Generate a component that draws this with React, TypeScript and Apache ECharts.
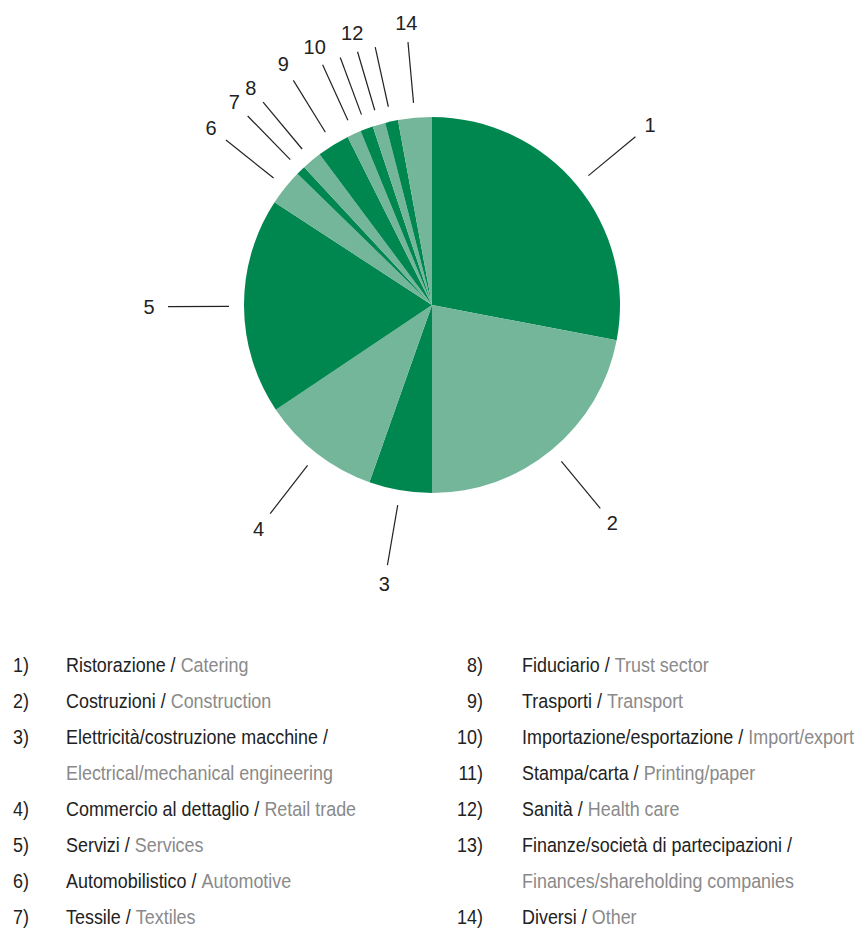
import React, { useEffect, useRef } from "react";
import * as echarts from "echarts";

// ---- data ----
const sectorNumbers = ["1", "2", "3", "4", "5", "6", "7", "8", "9", "10", "11", "12", "13", "14"];
const sectorShares = [28.0, 22.0, 5.4, 10.2, 18.6, 3.1, 0.8, 1.7, 2.8, 1.2, 1.1, 1.1, 1.1, 2.9];
const namesIt = [
  "Ristorazione",
  "Costruzioni",
  "Elettricità/costruzione macchine",
  "Commercio al dettaglio",
  "Servizi",
  "Automobilistico",
  "Tessile",
  "Fiduciario",
  "Trasporti",
  "Importazione/esportazione",
  "Stampa/carta",
  "Sanità",
  "Finanze/società di partecipazioni",
  "Diversi",
];
const namesEn = [
  "Catering",
  "Construction",
  "Electrical/mechanical engineering",
  "Retail trade",
  "Services",
  "Automotive",
  "Textiles",
  "Trust sector",
  "Transport",
  "Import/export",
  "Printing/paper",
  "Health care",
  "Finances/shareholding companies",
  "Other",
];
const wrapEnglish = [false, false, true, false, false, false, false, false, false, false, false, false, true, false];
const legendColumn = [0, 0, 0, 0, 0, 0, 0, 1, 1, 1, 1, 1, 1, 1];

// ---- styles ----
const DARK = "#00864f";
const LIGHT = "#73b69a";
const INK = "#222222";
const GREY = "#8a8a8a";
const FONT = '"Liberation Sans", Arial, sans-serif';
const NARROW = '"Liberation Sans Narrow", "Liberation Sans", Arial, sans-serif';

function buildLegend() {
  const els: any[] = [];
  const rowY0 = 665;
  const rowH = 36;
  const sx = 0.92;
  const fs = 19.5;
  const rowCounter = [0, 0];
  const numX = [13, 483];
  const numAlign = ["left", "right"];
  const textX = [66, 522];
  const rich = {
    a: { fill: INK, color: INK, fontSize: fs, fontFamily: FONT },
    b: { fill: GREY, color: GREY, fontSize: fs, fontFamily: FONT },
  };
  const mk = (x: number, y: number, text: string, align: string) => ({
    type: "text",
    x,
    y,
    scaleX: sx,
    silent: true,
    style: {
      text,
      rich,
      fill: INK,
      font: `${fs}px ${FONT}`,
      align,
      verticalAlign: "middle",
    },
  });
  for (let i = 0; i < namesIt.length; i++) {
    const col = legendColumn[i];
    const y = rowY0 + rowH * rowCounter[col];
    els.push(mk(numX[col], y, sectorNumbers[i] + ")", numAlign[col]));
    if (wrapEnglish[i]) {
      els.push(mk(textX[col], y, `{a|${namesIt[i]} /}`, "left"));
      rowCounter[col]++;
      els.push(mk(textX[col], rowY0 + rowH * rowCounter[col], `{b|${namesEn[i]}}`, "left"));
    } else {
      els.push(mk(textX[col], y, `{a|${namesIt[i]} / }{b|${namesEn[i]}}`, "left"));
    }
    rowCounter[col]++;
  }
  return els;
}

export default function App() {
  const ref = useRef<HTMLDivElement>(null);
  useEffect(() => {
    document.body.style.margin = "0";
    if (!ref.current) return;
    const chart = echarts.init(ref.current, null, { renderer: "svg" });
    const pieData = sectorShares.map((v, i) => ({
      name: sectorNumbers[i],
      value: v,
      itemStyle: { color: i % 2 === 0 ? DARK : LIGHT },
    }));
    const ghostData = sectorShares.map((v, i) => ({ name: sectorNumbers[i], value: v }));
    const center = [432, 305];
    chart.setOption({
      animation: false,
      backgroundColor: "#ffffff",
      tooltip: { show: false },
      series: [
        {
          type: "pie",
          center,
          radius: 188,
          startAngle: 90,
          clockwise: true,
          silent: true,
          label: { show: false },
          labelLine: { show: false },
          itemStyle: { borderWidth: 0 },
          data: pieData,
        },
        {
          type: "pie",
          center,
          radius: 203,
          startAngle: 90,
          clockwise: true,
          silent: true,
          avoidLabelOverlap: false,
          itemStyle: { color: "transparent", borderWidth: 0 },
          label: { show: true, position: "outside", formatter: "", color: "transparent" },
          labelLine: { show: true, length: 61, length2: 0, smooth: false, lineStyle: { color: INK, width: 1.2 } },
          data: ghostData,
        },
        {
          type: "pie",
          center,
          radius: [268, 292],
          startAngle: 90,
          clockwise: true,
          silent: true,
          avoidLabelOverlap: false,
          itemStyle: { color: "transparent", borderWidth: 0 },
          label: {
            show: true,
            position: "inside",
            formatter: "{b}",
            color: INK,
            fontSize: 20,
            fontFamily: NARROW,
          },
          labelLine: { show: false },
          data: ghostData,
        },
      ],
      graphic: buildLegend(),
    });
    return () => chart.dispose();
  }, []);
  return <div ref={ref} style={{ width: 866, height: 930 }} />;
}
